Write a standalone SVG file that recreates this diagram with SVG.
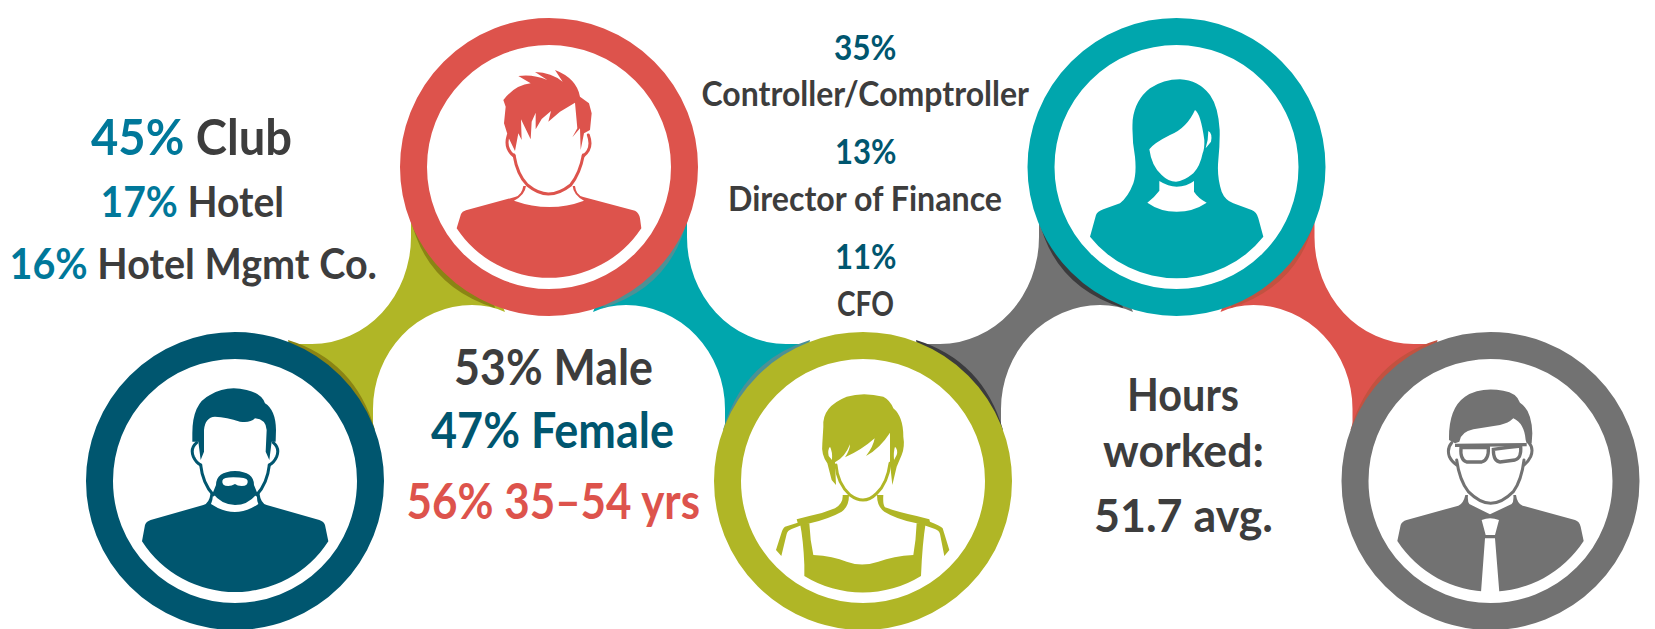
<svg xmlns="http://www.w3.org/2000/svg" width="1655" height="629" viewBox="0 0 1655 629">
<style>
text{font-family:Lato,"Noto Sans","Liberation Sans",sans-serif;font-weight:700;fill:#3d3d3d;text-anchor:start}
.l{font-size:50px}.m{font-size:42px}.s{font-size:35px}.g{font-size:49px}.h{font-size:46.5px}
.blue{fill:#00789a}.navy{fill:#00566f}.red{fill:#dd534c}
.ring{fill:#fff;stroke-width:27}
.line{fill:none;stroke-width:9;stroke-linecap:round}
</style>
<defs>
<path id="cn" d="M411,215L411,237A99,107 0 0 1 312,344L285,344L300,400L373,440L373,409A99,104 0 0 1 472,305Q490,305 505,312L480,250Z"/>
<path id="sh" d="M410,216Q425,286 495,308L480,250ZM288,340Q355,360.6 375,430L300,400Z"/>
</defs>
<rect width="1655" height="629" fill="#fff"/>
<g id="connectors">
<g id="conn-olive"><use href="#cn" fill="#b0b626"/><use href="#sh" fill="#8a8414"/></g>
<g id="conn-teal" transform="translate(1098,0) scale(-1,1)"><use href="#cn" fill="#00a6ad"/><use href="#sh" fill="#4d9195"/></g>
<g id="conn-gray" transform="translate(628,0)"><use href="#cn" fill="#727272"/><use href="#sh" fill="#3b3b3d"/></g>
<g id="conn-red" transform="translate(1725.5,0) scale(-1,1)"><use href="#cn" fill="#dd534c"/><use href="#sh" fill="#c25240"/></g>
</g>
<g id="node-navy">
<circle cx="235" cy="481" r="135.5" class="ring" stroke="#00566f"/>
<g transform="translate(130,380) scale(.33333)" fill="#00566f" stroke="#00566f">
<path stroke="none" d="M36,484L45,435Q48,425 62,420L220,375Q238,370 242,338L249,345Q248,362 243,372Q315,420 385,372Q380,362 381,345L388,338Q392,370 410,375L568,420Q582,425 585,435L595,484A333,333 0 0 1 36,484Z"/>
<path class="line" d="M212,255Q218,310 250,345M418,255Q412,310 380,345"/>
<path class="line" d="M200,188Q180,205 190,230Q198,248 212,255M430,188Q450,205 440,230Q432,248 418,255"/>
<path stroke="none" d="M258,315Q258,275 315,273Q372,275 372,315L382,340Q355,375 315,375Q275,375 248,340Z"/>
<path stroke="none" fill="#fff" d="M277,302Q280,292 310,292Q350,292 353,302Q355,318 335,318Q322,318 315,312Q305,318 295,318Q275,318 277,302Z"/>
<path stroke="none" d="M187,160Q187,70 240,45Q290,15 350,30Q395,40 405,70Q437,90 438,150L437,185L425,185L418,240L407,215L410,150Q408,118 375,115Q360,130 330,125Q290,112 255,110Q225,112 222,150L222,215L212,240L205,185L187,185Z"/>
</g>
</g>
<g id="node-red">
<circle cx="549" cy="167" r="135.5" class="ring" stroke="#dd534c"/>
<g transform="translate(440,50) scale(.33333)" fill="#dd534c" stroke="#dd534c">
<path stroke="none" d="M50,535L63,492Q66,485 78,481L225,441Q245,436 250,408L258,408Q255,435 222,452Q330,490 432,452Q400,435 398,408L405,408Q408,436 430,441L585,482Q597,488 600,505L604,535A333,333 0 0 1 50,535Z"/>
<path class="line" d="M222,315Q232,375 262,405Q295,432 325,432Q358,432 392,405Q420,370 430,315"/>
<path class="line" d="M205,255Q192,295 222,318M445,255Q460,295 430,318"/>
<path stroke="none" d="M190,150L197,170L192,220L205,262L225,303L235,250L245,270L243,208L272,268L275,215L287,188L287,238L305,207L333,183L325,215L360,185L405,158L412,235L397,262L420,235L422,300L432,250L450,240L455,190L447,160L420,140Q410,85 345,60L368,95Q335,68 285,66L322,90Q280,72 235,78L272,100Q225,105 190,150Z"/>
</g>
</g>
<g id="node-olive">
<circle cx="863" cy="481" r="135.5" class="ring" stroke="#b0b626"/>
<g transform="translate(750,380) scale(.33333)" fill="#b0b626" stroke="#b0b626">
<path stroke="none" d="M163,588L163,555Q160,480 150,430L178,430Q180,480 190,525Q250,528 290,545Q335,562 385,545Q430,528 490,525Q498,480 500,430L527,430Q517,490 513,588A333,333 0 0 1 163,588Z"/>
<path stroke="none" d="M278,345Q280,370 255,385Q220,400 178,408L140,418L143,428L105,440Q98,445 94,460L78,510L94,528L110,462Q112,452 125,447L150,437L180,430Q240,415 275,395Q297,380 297,345Z"/>
<path stroke="none" d="M381,345Q381,380 403,395Q440,418 500,430L527,437L555,447Q568,452 570,462L583,528L598,510L578,445Q572,437 540,425L538,418L500,408Q440,395 405,382Q398,375 400,345Z"/>
<path class="line" d="M258,255Q262,310 300,345Q320,360 339,360Q360,360 380,340Q412,310 420,250"/>
<path stroke="none" d="M220,140Q215,80 290,50Q340,35 400,50Q420,60 430,85Q460,110 460,170Q465,200 455,225L440,260L427,315L420,250L420,158Q390,205 348,228Q370,200 374,175Q335,210 285,232Q300,210 300,193Q285,232 255,247L258,315L245,300L232,250Q213,225 217,190Z"/>
<path stroke="none" fill="#fff" d="M240,200Q232,210 236,228L246,240Q248,215 240,200ZM435,200Q445,210 440,225L432,240Q430,215 435,200Z"/>
</g>
</g>
<g id="node-teal">
<circle cx="1176.5" cy="167" r="135.5" class="ring" stroke="#00a6ad"/>
<g transform="translate(1070,50) scale(.33333)" fill="#00a6ad">
<path d="M60,560L78,495Q82,485 100,478L150,460Q175,440 190,400Q200,370 195,320Q185,270 188,210Q195,150 240,115Q280,88 330,88Q385,90 420,135Q445,170 449,240Q450,280 445,330Q440,380 455,425Q465,450 490,460L545,480Q560,485 565,505L580,560A333,333 0 0 1 60,560Z"/>
<path fill="#fff" d="M238,298Q250,280 300,255Q350,235 375,180Q392,190 403,270Q404,295 398,310Q390,350 370,370Q340,395 318,395Q295,395 275,375Q245,350 238,298Z"/>
<path fill="#fff" d="M268,393Q295,410 320,410Q350,410 372,393L372,425Q385,445 410,458Q370,485 320,485Q270,485 232,458Q255,440 268,422Z"/>
<path fill="#fff" d="M415,243Q428,250 423,275L407,295Q415,270 415,243Z"/>
</g>
</g>
<g id="node-gray">
<circle cx="1490.5" cy="481" r="135.5" class="ring" stroke="#727272"/>
<g transform="translate(1380,380) scale(.33333)" fill="#727272" stroke="#727272">
<path stroke="none" d="M52,483L62,435Q66,424 80,420L235,377Q250,372 256,345L264,345Q262,365 268,372L330,403L395,372Q402,365 400,345L408,345Q412,372 428,377L585,420Q598,424 602,440L611,483A333,333 0 0 1 52,483Z"/>
<path stroke="none" fill="#fff" d="M305,420Q330,410 357,420L345,465L317,465ZM315,475L345,475L358,637L303,637Z"/>
<path class="line" d="M230,240Q238,300 265,335Q300,370 332,370Q365,370 400,335Q425,300 432,240"/>
<path class="line" d="M215,188Q200,205 208,230Q215,245 230,255M447,188Q462,205 452,230Q445,245 432,255"/>
<path stroke="none" d="M207,180Q205,85 255,50Q300,20 370,32Q410,38 420,68Q455,90 457,160L455,190L440,190L437,180Q433,130 400,115Q385,130 360,135L280,148Q243,155 238,185L225,190Z"/>
<path stroke-width="10" fill="#fff" d="M243,203L325,203Q327,240 305,246L260,246Q240,240 243,203ZM340,208Q380,202 422,198Q425,235 405,240L360,246Q340,245 340,208Z"/>
<path stroke-width="10" fill="none" d="M225,196L440,194"/>
</g>
</g>
<g id="labels">
<text x="91" y="154.5" textLength="201" lengthAdjust="spacingAndGlyphs" class="l"><tspan class="blue">45%</tspan> Club</text>
<text x="100.5" y="216.5" textLength="183.5" lengthAdjust="spacingAndGlyphs" class="m"><tspan class="blue">17%</tspan> Hotel</text>
<text x="9.5" y="279" textLength="367.5" lengthAdjust="spacingAndGlyphs" class="m"><tspan class="blue">16%</tspan> Hotel Mgmt Co.</text>
<text x="454" y="385" textLength="199" lengthAdjust="spacingAndGlyphs" class="g">53% Male</text>
<text x="431" y="448" textLength="243" lengthAdjust="spacingAndGlyphs" class="g navy">47% Female</text>
<text x="406.5" y="518.5" textLength="293.5" lengthAdjust="spacingAndGlyphs" class="g red">56% 35–54 yrs</text>
<text x="834" y="60" textLength="62.5" lengthAdjust="spacingAndGlyphs" class="s navy">35%</text>
<text x="701.5" y="106" textLength="327.5" lengthAdjust="spacingAndGlyphs" class="s">Controller/Comptroller</text>
<text x="835" y="163.5" textLength="61.5" lengthAdjust="spacingAndGlyphs" class="s navy">13%</text>
<text x="728" y="210.5" textLength="274" lengthAdjust="spacingAndGlyphs" class="s">Director of Finance</text>
<text x="835" y="268.5" textLength="61.5" lengthAdjust="spacingAndGlyphs" class="s navy">11%</text>
<text x="837" y="315.5" textLength="57" lengthAdjust="spacingAndGlyphs" class="s">CFO</text>
<text x="1127" y="411" textLength="112" lengthAdjust="spacingAndGlyphs" class="h">Hours</text>
<text x="1103" y="467" textLength="161" lengthAdjust="spacingAndGlyphs" class="h">worked:</text>
<text x="1094" y="531.5" textLength="179" lengthAdjust="spacingAndGlyphs" class="h">51.7 avg.</text>
</g>
</svg>
